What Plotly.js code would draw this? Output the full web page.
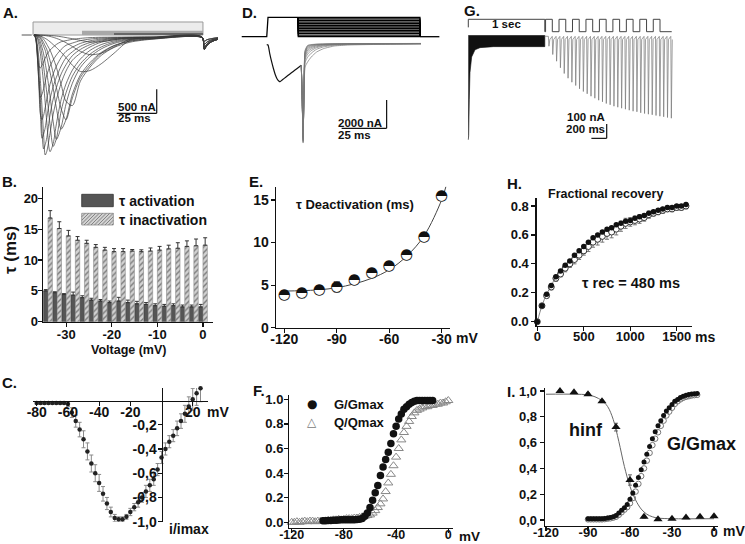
<!DOCTYPE html>
<html><head><meta charset="utf-8">
<script src="https://cdn.plot.ly/plotly-3.0.1.min.js"></script>
<style>html,body{margin:0;padding:0;background:#fff}#chart{width:745px;height:544px}</style>
</head><body><div id="chart"></div>
<script>
// ---------- Panel A: current family (ms, nA) ----------
const aT = [0,1,2,3,4,5,6,7,8,10,12,14,17,20,24,29,35,42,50,60,75,105,106.4,108,111,115];
const aI01 = [0,-43,-286,-738,-1333,-2000,-2375,-2285,-2140,-1666,-1333,-1095,-810,-620,-430,-300,-200,-125,-85,-65,-55,-50,-300,-220,-140,-90];
const aI02 = [0,-54,-344,-903,-1612,-2150,-2064,-1935,-1720,-1333,-1075,-880,-645,-473,-350,-235,-157,-105,-75,-60,-55,-50,-300,-220,-140,-90];
const aI03 = [0,-63,-396,-990,-1656,-1764,-1674,-1512,-1332,-1026,-810,-648,-468,-342,-255,-175,-122,-85,-65,-55,-50,-45,-300,-220,-140,-90];
const aI04 = [0,-72,-416,-949,-1300,-1235,-1118,-975,-832,-650,-520,-416,-299,-215,-168,-118,-85,-65,-55,-50,-45,-40,-300,-220,-140,-90];
const aI05 = [0,-56,-294,-644,-686,-630,-560,-483,-413,-315,-252,-196,-140,-118,-90,-70,-55,-48,-45,-42,-40,-38,-300,-220,-140,-90];
const aI06 = [0,-30,-175,-475,-950,-1500,-2075,-2500,-2425,-2050,-1650,-1350,-1000,-750,-525,-380,-250,-150,-100,-70,-60,-50,-300,-220,-140,-90];
const aI07 = [0,-12,-60,-195,-390,-680,-1020,-1410,-1820,-2430,-2260,-1850,-1340,-1020,-730,-500,-320,-200,-125,-80,-60,-50,-260,-190,-120,-80];
const aI08 = [0,-7,-42,-116,-232,-418,-650,-928,-1206,-1856,-2320,-2158,-1578,-1206,-858,-600,-400,-250,-150,-90,-65,-55,-260,-190,-120,-80];
const aI09 = [0,-4,-26,-61,-142,-262,-392,-589,-785,-1264,-1809,-2175,-1918,-1439,-1003,-676,-455,-290,-175,-105,-70,-55,-260,-190,-120,-80];
const aI10 = [0,-2,-16,-36,-69,-149,-238,-317,-455,-772,-1109,-1525,-1960,-1762,-1228,-832,-575,-365,-220,-125,-75,-55,-200,-150,-100,-70];
const aI11 = [0,0,-9,-27,-50,-97,-159,-230,-301,-531,-797,-1097,-1540,-1765,-1310,-885,-625,-385,-225,-130,-80,-55,-200,-150,-100,-70];
const aI12 = [0,0,-6,-15,-30,-48,-90,-135,-195,-315,-480,-675,-1035,-1380,-1470,-960,-670,-425,-260,-150,-85,-55,-200,-150,-100,-70];
const aI13 = [0,0,-2,-5,-20,-35,-50,-70,-90,-140,-200,-260,-360,-470,-630,-760,-740,-600,-380,-110,-55,-45,-130,-100,-75,-55];
const aI14 = [0,0,-1,-2,-4,-6,-9,-13,-18,-30,-48,-70,-110,-160,-240,-340,-410,-380,-250,-90,-50,-45,-130,-100,-75,-55];
const aI15 = [0,0,0,-1,-1,-2,-2,-3,-4,-10,-15,-22,-36,-54,-78,-112,-145,-140,-100,-55,-45,-40,-130,-100,-75,-55];
const aTraces = [aI01,aI02,aI03,aI04,aI05,aI06,aI07,aI08,aI09,aI10,aI11,aI12,aI13,aI14,aI15];
const aPulseEnd = 105.6, aOutward = 271;
const aScaleI = 500, aScaleT = 25;

// ---------- Panel D: deactivation tails ----------
const dPreT = [-0.7,0,1,2,3,4,5,6,6.7,8,10,12,14,16,18.5];
const dPreI = [-100,-120,-750,-1300,-1780,-2200,-2500,-2660,-2711,-2577,-2380,-2180,-1984,-1793,-1553];
const dTailT = [18.5,19.0,19.5,20.0,20.6,22,24,27,31,37,45,60,85];
const dTail120 = [-1553,-4000,-7040,-3000,-500,-150,-90,-60,-50,-40,-30,-20,-10];
const dTail110 = [-1553,-4000,-6965,-3070,-560,-180,-110,-70,-55,-42,-32,-22,-12];
const dTail100 = [-1553,-4000,-6890,-3140,-620,-230,-140,-85,-62,-46,-35,-24,-14];
const dTail90  = [-1553,-4000,-6815,-3210,-700,-300,-180,-110,-75,-52,-38,-26,-16];
const dTail80  = [-1553,-4000,-6740,-3280,-780,-380,-240,-140,-90,-60,-42,-30,-18];
const dTail70  = [-1553,-4000,-6665,-3350,-880,-480,-310,-180,-110,-70,-48,-34,-22];
const dTail60  = [-1553,-4000,-6590,-3420,-1000,-600,-400,-240,-140,-85,-55,-40,-26];
const dTail50  = [-1553,-4000,-6515,-3490,-1150,-760,-520,-310,-180,-105,-65,-46,-30];
const dTail40  = [-1553,-4000,-6440,-3560,-1350,-980,-700,-420,-250,-140,-80,-55,-35];
const dTail30  = [-1553,-4000,-6365,-3630,-1670,-1320,-970,-615,-370,-190,-120,-80,-40];
const dTails = [dTail120,dTail110,dTail100,dTail90,dTail80,dTail70,dTail60,dTail50,dTail40,dTail30];
const dHold = -120, dPre = 0, dStart = -14.6, dPreOn = 0, dPreOff = 16.8, dTestOff = 84.4, dEnd = 95.2;
const dLevels = [-120,-110,-100,-90,-80,-70,-60,-50,-40,-30,-20,-10,0];
const dScaleI = 2000, dScaleT = 25;

// ---------- Panel G: recovery protocol ----------
const gCondT = [0,5,13,22,44,88,153,330,1000];
const gCondMin = [-730,-700,-450,-260,-150,-100,-85,-78,-78];
const gRecT = [50,100,150,200,250,300,350,400,450,500,550,600,650,700,750,800,850,900,950,1000,1050,1100,1150,1200,1250,1300,1350,1400,1450,1500,1550,1600,1650];
const gSpikeDepth = [75,133,180,226,266,299,327,350,373,392,408,425,439,453,464,476,485,495,502,509,516,523,530,534,541,546,551,555,560,565,569,574,579];
const gPulseOn = [1010,1186,1362,1538,1714,1890,2066,2242,2418];
const gPulseW = 88, gCond = 1000, gProtoEnd = 2659;
const gScaleI = 100, gScaleT = 200;

// ---------- Panel B: time constants ----------
const bV = [-34,-32,-30,-28,-26,-24,-22,-20,-18,-16,-14,-12,-10,-8,-6,-4,-2,0];
const bAct = [5.0,4.7,4.4,4.3,3.9,3.5,3.35,3.1,3.35,3.1,2.9,2.8,2.6,2.5,2.6,2.4,2.4,2.4];
const bActErr = [0.2,0.15,0.15,0.5,0.3,0.3,0.25,0.25,0.6,0.4,0.4,0.3,0.3,0.3,0.3,0.3,0.3,0.4];
const bInact = [16.8,15.1,13.9,13.2,12.7,12.05,11.6,11.35,11.35,11.45,11.35,11.45,11.6,11.8,11.9,12.2,12.3,12.4];
const bInactErr = [1.2,1.1,0.9,0.6,0.5,0.45,0.45,0.5,0.5,0.25,0.3,0.5,0.6,0.6,0.9,0.9,1.1,1.2];

// ---------- Panel E: deactivation tau ----------
const eV = [-120,-110,-100,-90,-80,-70,-60,-50,-40,-30];
const eTau = [3.8,4.0,4.4,4.8,5.6,6.4,7.2,8.5,10.6,15.4];
const eErr = [0.5,0.5,0.5,0.6,0.5,0.4,0.4,0.4,0.4,0.3];
const eFitV = [-120,-110,-100,-90,-80,-70,-60,-50,-40,-30,-27.5];
const eFitTau = [4.3,4.35,4.45,4.7,5.15,5.8,6.8,8.4,10.8,15.0,16.6];

// ---------- Panel H: fractional recovery ----------
const hT = [0,50,100,150,200,250,300,350,400,450,500,550,600,650,700,750,800,850,900,950,1000,1050,1100,1150,1200,1250,1300,1350,1400,1450,1500,1550,1600];
const hFilled = [0.00,0.11,0.19,0.25,0.31,0.35,0.39,0.42,0.46,0.49,0.52,0.55,0.58,0.60,0.62,0.64,0.65,0.67,0.68,0.695,0.70,0.715,0.725,0.735,0.75,0.76,0.77,0.78,0.79,0.79,0.80,0.80,0.81];
const hOpen = [0.00,0.11,0.18,0.24,0.30,0.33,0.37,0.40,0.43,0.46,0.49,0.52,0.55,0.57,0.59,0.61,0.62,0.64,0.66,0.68,0.69,0.70,0.71,0.72,0.74,0.75,0.76,0.77,0.78,0.78,0.79,0.79,0.80];
const hErr = [0.01,0.01,0.015,0.02,0.02,0.02,0.025,0.025,0.03,0.03,0.03,0.035,0.035,0.04,0.04,0.04,0.04,0.04,0.035,0.035,0.03,0.03,0.03,0.025,0.025,0.02,0.02,0.02,0.02,0.02,0.02,0.02,0.02];

// ---------- Panel C: I-V ----------
const cV = [-80,-77.5,-75,-72.5,-70,-67.5,-65,-62.5,-60,-57.5,-55,-52.5,-50,-47.5,-45,-42.5,-40,-37.5,-35,-32.5,-30,-27.5,-25,-22.5,-20,-17.5,-15,-12.5,-10,-7.5,-5,-2.5,0,2.5,5,7.5,10,12.5,15,17.5,20,22.5,25];
const cI = [-0.02,-0.02,-0.02,-0.02,-0.02,-0.02,-0.02,-0.02,-0.03,-0.10,-0.17,-0.24,-0.32,-0.42,-0.52,-0.60,-0.68,-0.77,-0.85,-0.92,-0.97,-0.98,-0.98,-0.96,-0.92,-0.88,-0.84,-0.80,-0.75,-0.70,-0.65,-0.57,-0.47,-0.40,-0.34,-0.29,-0.23,-0.17,-0.11,-0.05,0.01,0.06,0.10];
const cErr = [0.01,0.01,0.01,0.01,0.01,0.01,0.01,0.01,0.02,0.04,0.05,0.06,0.07,0.07,0.07,0.07,0.07,0.06,0.05,0.04,0.03,0.02,0.02,0.02,0.03,0.03,0.04,0.04,0.05,0.05,0.05,0.05,0.05,0.05,0.05,0.05,0.06,0.06,0.07,0.08,0.09,0.10,0.11];

// ---------- Panel F: G/Gmax and Q/Qmax ----------
const fGV = [-96,-94,-92,-90,-88,-86,-84,-82,-80,-78,-76,-74,-72,-70,-68,-66,-64,-62,-60,-58,-56,-54,-52,-50,-48,-46,-44,-42,-40,-38,-36,-34,-32,-30,-28,-26,-24,-22,-20,-18,-16,-14,-12];
const fG = [0.012,0.013,0.014,0.015,0.016,0.017,0.018,0.02,0.02,0.02,0.02,0.02,0.02,0.022,0.025,0.03,0.05,0.075,0.12,0.18,0.24,0.30,0.38,0.45,0.51,0.57,0.64,0.72,0.78,0.84,0.88,0.92,0.94,0.96,0.975,0.985,0.99,0.99,0.99,0.99,0.99,0.99,0.99];
const fQV = [-120,-118,-116,-114,-112,-110,-108,-106,-104,-102,-100,-98,-96,-94,-92,-90,-88,-86,-84,-82,-80,-78,-76,-74,-72,-70,-68,-66,-64,-62,-60,-58,-56,-54,-52,-50,-48,-46,-44,-42,-40,-38,-36,-34,-32,-30,-28,-26,-24,-22,-20,-18,-16,-14,-12,-10,-8,-6,-4,-2,0];
const fQ = [0.0,0.0,0.005,0.0,0.005,0.01,0.005,0.01,0.01,0.005,0.01,0.01,0.01,0.012,0.015,0.015,0.02,0.02,0.025,0.02,0.025,0.03,0.03,0.03,0.035,0.035,0.04,0.045,0.05,0.055,0.06,0.075,0.095,0.12,0.15,0.19,0.25,0.32,0.39,0.46,0.53,0.60,0.67,0.73,0.78,0.82,0.86,0.89,0.91,0.92,0.93,0.94,0.94,0.95,0.95,0.96,0.96,0.97,0.97,0.98,0.99];

// ---------- Panel I: hinf and G/Gmax ----------
const iHV = [-110,-100,-90,-80,-70,-60,-50,-40,-30,-20,-10,0];
const iH = [1.0,0.99,0.975,0.92,0.72,0.31,0.025,0.005,0.01,0.02,0.025,0.03];
const iHErr = [0.005,0.005,0.01,0.01,0.03,0.04,0.01,0.005,0.005,0.005,0.005,0.005];
const iFitV = [-120,-100,-90,-85,-80,-76,-72,-68,-64,-60,-56,-52,-48,-44,-40,-30,0];
const iFit = [0.975,0.975,0.97,0.955,0.925,0.88,0.78,0.61,0.415,0.26,0.155,0.085,0.045,0.025,0.015,0.01,0.01];
const iGV = [-90,-88,-86,-84,-82,-80,-78,-76,-74,-72,-70,-68,-66,-64,-62,-60,-58,-56,-54,-52,-50,-48,-46,-44,-42,-40,-38,-36,-34,-32,-30,-28,-26,-24,-22,-20,-18,-16,-14,-12];
const iG = [0.01,0.01,0.01,0.01,0.01,0.01,0.012,0.015,0.02,0.025,0.035,0.055,0.075,0.095,0.12,0.16,0.21,0.27,0.33,0.39,0.45,0.51,0.57,0.63,0.685,0.73,0.77,0.81,0.845,0.87,0.895,0.92,0.935,0.95,0.96,0.967,0.972,0.976,0.978,0.98];
const iGo = [0.005,0.005,0.005,0.005,0.005,0.005,0.007,0.01,0.013,0.018,0.025,0.04,0.06,0.08,0.1,0.13,0.17,0.22,0.28,0.34,0.40,0.46,0.52,0.58,0.63,0.68,0.73,0.77,0.81,0.84,0.87,0.9,0.92,0.935,0.947,0.955,0.96,0.965,0.968,0.97];

// ================= drawing =================
const FONT = 'Liberation Sans, Arial, sans-serif';
const W = 745, H = 544;
const fx = p => p / W, fy = p => 1 - p / H;
const INK = '#111';

const traces = [];
const shapes = [];
const ann = [];

// A
aTraces.forEach(v => traces.push({x: aT, y: v, xaxis:'x', yaxis:'y', mode:'lines',
  line:{color:'#3a3a3a', width:0.7, shape:'spline', smoothing:0.8}, hoverinfo:'skip'}));
traces.push({x:[-7.7,-1.4], y:[0,0], xaxis:'x', yaxis:'y', mode:'lines', line:{color:'#555', width:1}, hoverinfo:'skip'});
shapes.push({type:'rect', xref:'x', yref:'y', x0:-0.6, x1:aPulseEnd, y0:0, y1:aOutward, fillcolor:'#ececec', line:{color:'#9a9a9a', width:1}, layer:'below'});
shapes.push({type:'rect', xref:'x', yref:'y', x0:30, x1:aPulseEnd, y0:0, y1:90, fillcolor:'#a8a8a8', line:{width:0}, layer:'below'});
shapes.push({type:'rect', xref:'x', yref:'y', x0:50, x1:aPulseEnd, y0:0, y1:40, fillcolor:'#666', line:{width:0}, layer:'below'});
const aSx = 76.7, aSy = -1131;
shapes.push({type:'line', xref:'x', yref:'y', x0:aSx, x1:aSx, y0:aSy, y1:aSy-aScaleI, line:{color:INK, width:1.2}});
shapes.push({type:'line', xref:'x', yref:'y', x0:aSx-aScaleT, x1:aSx, y0:aSy-aScaleI, y1:aSy-aScaleI, line:{color:INK, width:1.2}});

// D
traces.push({x:dPreT, y:dPreI, xaxis:'x2', yaxis:'y2', mode:'lines', line:{color:'#111', width:1.2, shape:'spline', smoothing:0.6}, hoverinfo:'skip'});
dTails.forEach(v => traces.push({x:dTailT, y:v, xaxis:'x2', yaxis:'y2', mode:'lines', line:{color:'#777', width:0.7, shape:'spline', smoothing:0.5}, hoverinfo:'skip'}));
(function(){
  const px=[dStart,dPreOn-0.7,dPreOn,dPreOff], py=[dHold,dHold,dPre,dPre];
  dLevels.forEach(v => { px.push(null,dPreOff,dPreOff,dTestOff,dTestOff); py.push(null,dPre,v,v,dHold); });
  px.push(null,dTestOff,dEnd); py.push(null,dHold,dHold);
  traces.push({x:px, y:py, xaxis:'x2', yaxis:'y3', mode:'lines', line:{color:'#000', width:1.3}, connectgaps:false, hoverinfo:'skip'});
})();
const dSx = 65.9, dSy = -4003;
shapes.push({type:'line', xref:'x2', yref:'y2', x0:dSx, x1:dSx, y0:dSy, y1:dSy-dScaleI, line:{color:INK, width:1.2}});
shapes.push({type:'line', xref:'x2', yref:'y2', x0:dSx-dScaleT, x1:dSx, y0:dSy-dScaleI, y1:dSy-dScaleI, line:{color:INK, width:1.2}});

// G
(function(){
  const x=[...gCondT, gCond, 0], y=[...gCondMin, 0, 0];
  traces.push({x, y, xaxis:'x3', yaxis:'y4', mode:'lines', fill:'toself', fillcolor:'#111', line:{color:'#111', width:0.6}, hoverinfo:'skip'});
  const cx=[gCond], cy=[-5];
  gRecT.forEach((t,k) => { const t0=gCond+t; cx.push(t0-3, t0+4, t0+16); cy.push(-6, -gSpikeDepth[k], -28); });
  traces.push({x:cx, y:cy, xaxis:'x3', yaxis:'y4', mode:'lines', line:{color:'#777', width:0.7}, hoverinfo:'skip'});
  const px=[0,0,gCond,gCond], py=[0.35,1,1,0];
  gPulseOn.forEach(t => { px.push(t,t,t+gPulseW,t+gPulseW); py.push(0,1,1,0); });
  px.push(gProtoEnd); py.push(0);
  traces.push({x:px, y:py, xaxis:'x3', yaxis:'y5', mode:'lines', line:{color:'#444', width:1}, hoverinfo:'skip'});
})();
const gSx = 1809, gSy = -620;
shapes.push({type:'line', xref:'x3', yref:'y4', x0:gSx, x1:gSx, y0:gSy, y1:gSy-gScaleI, line:{color:INK, width:1.2}});
shapes.push({type:'line', xref:'x3', yref:'y4', x0:gSx-gScaleT, x1:gSx, y0:gSy-gScaleI, y1:gSy-gScaleI, line:{color:INK, width:1.2}});

// B
const zeros = bV.map(() => 0);
traces.push({type:'bar', x:bV, y:bAct, xaxis:'x4', yaxis:'y6', marker:{color:'#555', line:{color:'#333', width:0.6}},
  error_y:{type:'data', symmetric:false, array:bActErr, arrayminus:zeros, color:'#333', thickness:1, width:2}, hoverinfo:'skip'});
traces.push({type:'bar', x:bV, y:bInact, xaxis:'x4', yaxis:'y6', marker:{color:'#cfcfcf', line:{color:'#8a8a8a', width:0.6},
  pattern:{shape:'/', bgcolor:'#d2d2d2', fgcolor:'#7a7a7a', size:4, solidity:0.35, fillmode:'replace'}},
  error_y:{type:'data', symmetric:false, array:bInactErr, arrayminus:zeros, color:'#333', thickness:1, width:2}, hoverinfo:'skip'});

// E
traces.push({x:eFitV, y:eFitTau, xaxis:'x5', yaxis:'y7', mode:'lines', line:{color:'#444', width:1, shape:'spline'}, hoverinfo:'skip', cliponaxis:false});
traces.push({x:eV, y:eTau, xaxis:'x5', yaxis:'y7', mode:'markers', marker:{size:11, color:'#fff', line:{width:0}},
  error_y:{type:'data', array:eErr, color:'#333', thickness:1, width:3}, cliponaxis:false, hoverinfo:'skip'});
traces.push({x:eV, y:eTau, xaxis:'x5', yaxis:'y7', mode:'text', text:eV.map(()=>'\u25D3'), textposition:'middle center',
  textfont:{family:'DejaVu Sans', size:15, color:'#111'}, cliponaxis:false, hoverinfo:'skip'});

// H
traces.push({x:hT, y:hOpen, xaxis:'x6', yaxis:'y8', mode:'markers', marker:{size:6, color:'#fff', line:{color:'#333', width:1}},
  error_y:{type:'data', array:hErr, color:'#777', thickness:1, width:2}, cliponaxis:false, hoverinfo:'skip'});
traces.push({x:hT, y:hFilled, xaxis:'x6', yaxis:'y8', mode:'lines+markers', line:{color:'#666', width:0.8, shape:'spline'},
  marker:{size:5.5, color:'#111'}, cliponaxis:false, hoverinfo:'skip'});

// C
traces.push({x:cV, y:cI, xaxis:'x7', yaxis:'y9', mode:'markers', marker:{size:4.5, color:'#222'},
  error_y:{type:'data', array:cErr, color:'#8a8a8a', thickness:1, width:2}, cliponaxis:false, hoverinfo:'skip'});

// F
traces.push({x:fQV, y:fQ, xaxis:'x8', yaxis:'y10', mode:'markers', marker:{symbol:'triangle-up-open', size:8, color:'#888', line:{width:1}}, cliponaxis:false, hoverinfo:'skip'});
traces.push({x:fGV, y:fG, xaxis:'x8', yaxis:'y10', mode:'markers', marker:{size:7.5, color:'#111'}, cliponaxis:false, hoverinfo:'skip'});

// I
traces.push({x:iFitV, y:iFit, xaxis:'x9', yaxis:'y11', mode:'lines', line:{color:'#666', width:1, shape:'spline'}, hoverinfo:'skip'});
traces.push({x:iGV, y:iGo, xaxis:'x9', yaxis:'y11', mode:'markers', marker:{symbol:'circle-open', size:5.5, color:'#777', line:{width:1}}, cliponaxis:false, hoverinfo:'skip'});
traces.push({x:iGV, y:iG, xaxis:'x9', yaxis:'y11', mode:'markers', marker:{size:5, color:'#111'}, cliponaxis:false, hoverinfo:'skip'});
traces.push({x:iHV, y:iH, xaxis:'x9', yaxis:'y11', mode:'markers', marker:{symbol:'triangle-up', size:8, color:'#111'},
  error_y:{type:'data', array:iHErr, color:'#666', thickness:1, width:2}, cliponaxis:false, hoverinfo:'skip'});

// ---------- axes ----------
const hidden = {visible:false, fixedrange:true, showgrid:false, zeroline:false};
function vis(extra){
  return Object.assign({visible:true, showline:true, linecolor:INK, linewidth:1.3, ticks:'outside', ticklen:4, tickwidth:1.2,
    tickcolor:INK, showgrid:false, zeroline:false, fixedrange:true, tickmode:'array',
    tickfont:{family:FONT, size:13, color:INK, weight:'bold'}}, extra);
}
const hx = (a,b) => [fx(a), fx(b)];
const vy = (top,bot) => [fy(bot), fy(top)];
const f14 = {family:FONT, size:14, color:INK, weight:'bold'};

const layout = {
  width:W, height:H, margin:{l:0,r:0,t:0,b:0}, paper_bgcolor:'#fff', plot_bgcolor:'rgba(0,0,0,0)',
  showlegend:false, hovermode:false, barmode:'group', bargap:0.04, bargroupgap:0,
  font:{family:FONT, color:INK},
  xaxis:  Object.assign({}, hidden, {domain:hx(18,225), range:[-10,119.375], anchor:'y'}),
  yaxis:  Object.assign({}, hidden, {domain:vy(12,165), range:[-2708,479], anchor:'x'}),
  xaxis2: Object.assign({}, hidden, {domain:hx(240,445), range:[-15.56,98.33], anchor:'y2'}),
  yaxis2: Object.assign({}, hidden, {domain:vy(38,150), range:[-7533,374], anchor:'x2'}),
  yaxis3: Object.assign({}, hidden, {domain:vy(12,40), range:[-140.4,32.7], anchor:'x2'}),
  xaxis3: Object.assign({}, hidden, {domain:hx(460,680), range:[-108.5,2767.3], anchor:'y4'}),
  yaxis4: Object.assign({}, hidden, {domain:vy(30,145), range:[-766.5,38.5], anchor:'x3'}),
  yaxis5: Object.assign({}, hidden, {domain:vy(14,36), range:[-0.347,1.427], anchor:'x3'}),
  xaxis4: vis({domain:hx(43,213), range:[-35.1,2.2], anchor:'y6', tickvals:[-30,-20,-10,0], ticktext:['-30','-20','-10','0'], ticklabelstandoff:-4}),
  yaxis6: vis({domain:vy(187,321.7), range:[0,21.83], anchor:'x4', tickvals:[0,5,10,15,20], ticktext:['0','5','10','15','20'], ticklabelstandoff:-3}),
  xaxis5: vis({domain:hx(276,450), range:[-124.75,-25.2], anchor:'y7', tickvals:[-120,-90,-60,-30], ticktext:['-120','-90','-60','-30'], tickfont:f14, ticklabelstandoff:-6}),
  yaxis7: vis({domain:vy(186.7,327.7), range:[0,16.56], anchor:'x5', tickvals:[0,5,10,15], ticktext:['0','5','10','15'], tickfont:f14, ticklabelstandoff:-1}),
  xaxis6: vis({domain:hx(536.7,691.7), range:[-6.5,1661.5], anchor:'y8', tickvals:[0,500,1000,1500], ticktext:['0','500','1000','1500'], ticklabelstandoff:-6}),
  yaxis8: vis({domain:vy(198.3,326), range:[-0.0297,0.8532], anchor:'x6', tickvals:[0,0.2,0.4,0.6,0.8], ticktext:['0.0','0.2','0.4','0.6','0.8']}),
  xaxis7: vis({domain:hx(33,208), range:[-82.4,29.8], anchor:'free', position:fy(400.5), tickvals:[-80,-60,-40,-20,20], ticktext:['-80','-60','-40','-20','20'], tickfont:f14, ticklabelstandoff:-6}),
  yaxis9: vis({domain:vy(388,521.7), range:[-1.0,0.103], anchor:'free', position:fx(161.5), tickvals:[-0.2,-0.4,-0.6,-0.8,-1.0], ticktext:['-0,2','-0,4','-0,6','-0,8','-1,0'], tickfont:f14, ticklabelstandoff:-2}),
  xaxis8: vis({domain:hx(289.3,453.3), range:[-121.84,3.83], anchor:'y10', tickvals:[-120,-80,-40,0], ticktext:['-120','-80','-40','0'],
    tickfont:{family:FONT, size:12.5, color:INK, weight:'bold'}, ticklabelstandoff:-9}),
  yaxis10: vis({domain:vy(395,527.7), range:[-0.0439,1.035], anchor:'x8', tickvals:[0,0.2,0.4,0.6,0.8,1.0], ticktext:['0.0','0.2','0.4','0.6','0.8','1.0'], ticklabelstandoff:-2}),
  xaxis9: vis({domain:hx(545,718), range:[-120.71,2.86], anchor:'y11', tickvals:[-120,-90,-60,-30,0], ticktext:['-120','-90','-60','-30','0'], ticklabelstandoff:-10}),
  yaxis11: vis({domain:vy(388.3,526), range:[-0.0465,1.0209], anchor:'x9', tickvals:[0,0.2,0.4,0.6,0.8,1.0], ticktext:['0,0','0,2','0,4','0,6','0,8','1,0']}),
  shapes, annotations: ann
};

// ---------- texts ----------
function T(text, x, y, size, xa, extra){
  ann.push(Object.assign({xref:'paper', yref:'paper', x:fx(x), y:fy(y), text, showarrow:false, xanchor:xa||'center', yanchor:'middle',
    font:{family:FONT, size, color:INK, weight:'bold'}}, extra||{}));
}
T('A.', 1, 12, 15, 'left'); T('D.', 239.5, 12, 15, 'left'); T('G.', 462, 10.5, 15, 'left');
T('B.', 0, 182, 15, 'left'); T('E.', 247, 181, 15, 'left'); T('H.', 504.5, 183.5, 15, 'left');
T('C.', 0, 382, 15, 'left'); T('F.', 251, 390.5, 15, 'left'); T('I.', 504.5, 391, 15, 'left');
T('500 nA', 116, 106.5, 11.5, 'left'); T('25 ms', 116, 118.5, 11.5, 'left');
T('2000 nA', 336, 122.5, 11.5, 'left'); T('25 ms', 336, 135, 11.5, 'left');
T('1 sec', 506.7, 24, 11.5);
T('100 nA', 565, 117.3, 11.5, 'left'); T('200 ms', 564, 129.3, 11.5, 'left');
T('\u03C4 activation', 116.5, 200.5, 14, 'left'); T('\u03C4 inactivation', 116.5, 219.5, 14, 'left');
T('\u03C4 (ms)', 11, 250, 17, 'center', {textangle:-90});
T('Voltage (mV)', 128, 350, 12.5);
T('\u03C4 Deactivation (ms)', 355, 204.5, 13);
T('mV', 467, 337.5, 14);
T('Fractional recovery', 605, 194, 12.5);
T('\u03C4 rec = 480 ms', 630.7, 283.3, 14.5);
T('ms', 705, 336.5, 14);
T('mV', 217.5, 411.5, 14);
T('i/imax', 189, 528.5, 14);
T('G/Gmax', 331.5, 404, 13, 'left'); T('Q/Qmax', 331.5, 422.5, 13, 'left');
T('\u25CF', 311.7, 404, 12, 'center', {font:{family:'DejaVu Sans', size:12, color:INK}});
T('\u25B3', 311.7, 422, 12, 'center', {font:{family:'DejaVu Sans', size:12, color:'#777'}});
T('mV', 469, 536, 13.5);
T('hinf', 586, 430, 18); T('G/Gmax', 701, 444, 18);
T('mV', 733.5, 530.5, 14);

// B legend swatches
const legA = [81.7,194.3,113.3,206.7], legI = [81.7,213.3,113.3,225];
shapes.push({type:'rect', xref:'paper', yref:'paper', x0:fx(legA[0]), x1:fx(legA[2]), y0:fy(legA[3]), y1:fy(legA[1]), fillcolor:'#555', line:{color:'#333', width:0.8}});
shapes.push({type:'rect', xref:'paper', yref:'paper', x0:fx(legI[0]), x1:fx(legI[2]), y0:fy(legI[3]), y1:fy(legI[1]), fillcolor:'#d2d2d2', line:{color:'#8a8a8a', width:0.8}});
(function(){
  const [x0,y0,x1,y1] = legI, h = y1-y0;
  for (let c = x0-h; c < x1; c += 3.5){
    const s0 = Math.max(0, x0-c), s1 = Math.min(h, x1-c);
    if (s1 <= s0) continue;
    shapes.push({type:'line', xref:'paper', yref:'paper', x0:fx(c+s0), y0:fy(y1-s0), x1:fx(c+s1), y1:fy(y1-s1), line:{color:'#7a7a7a', width:0.9}});
  }
})();

Plotly.newPlot('chart', traces, layout, {staticPlot:true, displayModeBar:false});
</script></body></html>
